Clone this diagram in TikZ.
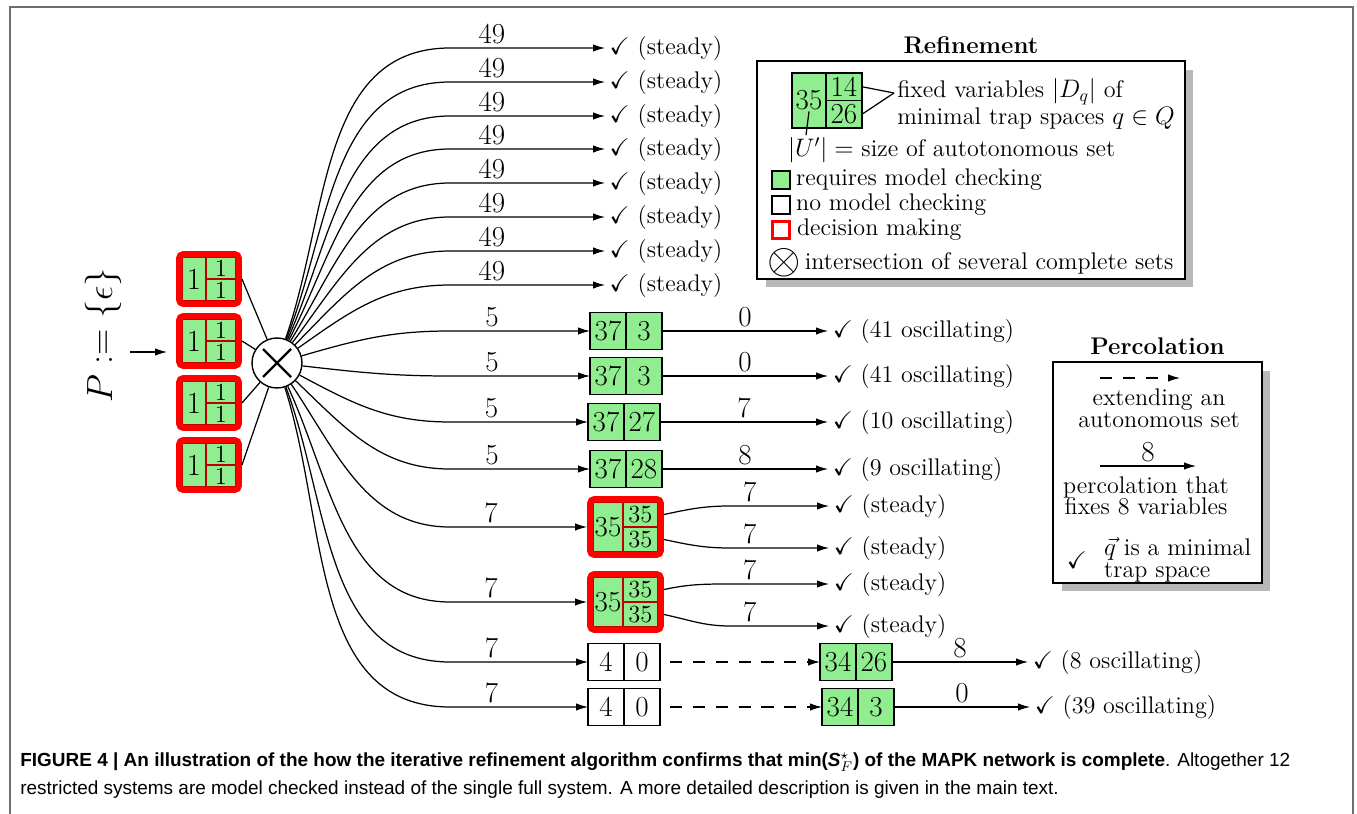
\documentclass[tikz,border=0pt]{standalone}
\usepackage{amsmath}
\usepackage{amssymb}
\usepackage{fontspec}
\newfontfamily\capfont{Liberation Sans}
\usetikzlibrary{arrows.meta,positioning,fit,shadows}

\definecolor{cellgreen}{RGB}{144,238,144}
\definecolor{framegray}{RGB}{110,110,110}
\newcommand\txtsize{\fontsize{13.7}{12.4}\selectfont}
\newcommand\numsize{\fontsize{16.5}{19}\selectfont}
\newcommand\onesize{\fontsize{17.5}{20}\selectfont}
\newcommand\subsize{\fontsize{14}{16}\selectfont}

\begin{document}
\begin{tikzpicture}[
    x=0.02cm, y=0.02cm,
    every node/.style={font=\txtsize},
    cell/.style={draw, line width=1.1pt, fill=cellgreen, minimum width=0.72cm, minimum height=0.74cm, inner sep=0pt, outer sep=0pt, font=\numsize},
    blank/.style={cell, fill=white},
    dcell/.style={draw=red!75!black, line width=0.6pt, fill=cellgreen, inner sep=0pt, outer sep=0pt},
    decide/.style={draw=red, line width=3.4pt, rounded corners=2.5pt, inner sep=1.7pt},
    outcome/.style={anchor=west, inner sep=2.5pt},
    lbl/.style={above, inner sep=2pt, font=\numsize},
    flow/.style={-{Latex[length=2.4mm,width=1.5mm]}, line width=0.7pt},
    extend/.style={flow, dash pattern=on 7pt off 6pt},
    legendbox/.style={draw, line width=1.2pt, fill=white, drop shadow={shadow xshift=0.17cm, shadow yshift=-0.17cm, fill=black!28, opacity=1}}
]
\useasboundingbox (0,0) rectangle (1357,-814);
\draw[framegray, line width=1.1pt] (10,-814) -- (10,-7) -- (1353,-7) -- (1353,-814);

% start set and the four decisions
\node[rotate=90, font=\fontsize{20}{24}\selectfont] (pset) at (103,-335) {$P := \{\epsilon\}$};
\coordinate (pin) at (130,-352);
\coordinate (pout) at (167,-352);
\draw[flow] (pin) -- (pout);
\node[circle, draw, line width=0.8pt, fill=white, minimum size=1cm, inner sep=0pt] (meet) at (277,-363) {};
\draw[line width=1.3pt] ([shift={(-14,-14)}]meet.center) -- ([shift={(14,14)}]meet.center);
\draw[line width=1.3pt] ([shift={(-14,14)}]meet.center) -- ([shift={(14,-14)}]meet.center);
\foreach \i in {1,...,4} {
  \node[dcell, minimum width=0.48cm, minimum height=0.88cm, font=\onesize] (pl\i) at (194,{-279-62*(\i-1)}) {1};
  \node[dcell, minimum width=0.6cm, minimum height=0.44cm, font=\subsize, anchor=north west] (pt\i) at (pl\i.north east) {1};
  \node[dcell, minimum width=0.6cm, minimum height=0.44cm, font=\subsize, anchor=south west] (pb\i) at (pl\i.south east) {1};
  \node[decide, fit=(pl\i)(pt\i)(pb\i)] (p\i) {};
  \draw[line width=0.7pt] (p\i.east) -- (meet);
}

% steady results
\foreach \py [count=\i] in {48,82,116,149,183,217,251,285} {
  \node[outcome] (st\i) at (605,-\py) {$\checkmark$ (steady)};
  \pgfmathsetmacro{\ang}{atan2(363-\py,110)}
  \coordinate (kst\i) at (450,-\py);
  \draw[flow] (meet) to[out=\ang, in=180] (kst\i) -- node[lbl, pos=0.27] {49} (st\i.west);
}

% restricted systems
\node[cell] (a1) at (608,-331) {37};
\node[cell, right=0pt of a1] (a2) {3};
\node[cell] (b1) at (608,-376) {37};
\node[cell, right=0pt of b1] (b2) {3};
\node[cell] (c1) at (606,-422) {37};
\node[cell, right=0pt of c1] (c2) {27};
\node[cell] (d1) at (608,-469) {37};
\node[cell, right=0pt of d1] (d2) {28};
\node[dcell, minimum width=0.6cm, minimum height=1cm, font=\numsize] (e1) at (608,-527) {35};
\node[dcell, minimum width=0.7cm, minimum height=0.5cm, font=\subsize, anchor=north west] (e2) at (e1.north east) {35};
\node[dcell, minimum width=0.7cm, minimum height=0.5cm, font=\subsize, anchor=south west] (e3) at (e1.south east) {35};
\node[decide, fit=(e1)(e2)(e3)] (e) {};
\node[dcell, minimum width=0.6cm, minimum height=1cm, font=\numsize] (f1) at (608,-602) {35};
\node[dcell, minimum width=0.7cm, minimum height=0.5cm, font=\subsize, anchor=north west] (f2) at (f1.north east) {35};
\node[dcell, minimum width=0.7cm, minimum height=0.5cm, font=\subsize, anchor=south west] (f3) at (f1.south east) {35};
\node[decide, fit=(f1)(f2)(f3)] (f) {};
\node[blank] (g1) at (606,-662) {4};
\node[blank, right=0pt of g1] (g2) {0};
\node[cell] (g3) at (838,-662) {34};
\node[cell, right=0pt of g3] (g4) {26};
\node[blank] (h1) at (606,-707) {4};
\node[blank, right=0pt of h1] (h2) {0};
\node[cell] (h3) at (840,-707) {34};
\node[cell, right=0pt of h3] (h4) {3};

\foreach \py/\tgt/\w in {331/a1/5, 376/b1/5, 422/c1/5, 469/d1/5, 527/e/7, 602/f/7, 662/g1/7, 707/h1/7} {
  \pgfmathsetmacro{\ang}{atan2(363-\py,110)}
  \coordinate (k\tgt) at (450,-\py);
  \draw[flow] (meet) to[out=\ang, in=180] (k\tgt) -- node[lbl, pos=0.3] {\w} (\tgt.west);
}

% outcomes
\node[outcome] (oa) at (828,-331) {$\checkmark$ (41 oscillating)};
\node[outcome] (ob) at (828,-376) {$\checkmark$ (41 oscillating)};
\node[outcome] (oc) at (828,-422) {$\checkmark$ (10 oscillating)};
\node[outcome] (od) at (828,-469) {$\checkmark$ (9 oscillating)};
\draw[flow] (a2.east) -- node[lbl] {0} (oa.west);
\draw[flow] (b2.east) -- node[lbl] {0} (ob.west);
\draw[flow] (c2.east) -- node[lbl] {7} (oc.west);
\draw[flow] (d2.east) -- node[lbl] {8} (od.west);
\node[outcome] (oe1) at (829,-506) {$\checkmark$ (steady)};
\node[outcome] (oe2) at (829,-548) {$\checkmark$ (steady)};
\node[outcome] (of1) at (829,-584) {$\checkmark$ (steady)};
\node[outcome] (of2) at (829,-626) {$\checkmark$ (steady)};
\coordinate (ke1) at (730,-506);
\coordinate (ke2) at (730,-548);
\coordinate (kf1) at (730,-584);
\coordinate (kf2) at (730,-626);
\draw[flow] (e.east |- e2) to[out=12, in=180] (ke1) -- node[lbl, pos=0.2] {7} (oe1.west);
\draw[flow] (e.east |- e3) to[out=-12, in=180] (ke2) -- node[lbl, pos=0.2] {7} (oe2.west);
\draw[flow] (f.east |- f2) to[out=12, in=180] (kf1) -- node[lbl, pos=0.2] {7} (of1.west);
\draw[flow] (f.east |- f3) to[out=-12, in=180] (kf2) -- node[lbl, pos=0.2] {7} (of2.west);
\draw[extend, shorten <=2mm] (g2.east) -- (g3.west);
\draw[extend, shorten <=2mm] (h2.east) -- (h3.west);
\node[outcome] (og) at (1028,-662) {$\checkmark$ (8 oscillating)};
\node[outcome] (oh) at (1030,-707) {$\checkmark$ (39 oscillating)};
\draw[flow] (g4.east) -- node[lbl] {8} (og.west);
\draw[flow] (h4.east) -- node[lbl] {0} (oh.west);

% legend: refinement
\node[legendbox, minimum width=8.56cm, minimum height=4.36cm] (refbox) at (971,-170) {};
\node[above=0pt of refbox, font=\txtsize\bfseries] (reftitle) {Refinement};
\node[cell, minimum width=0.68cm, minimum height=1.1cm] (u1) at (809,-100.5) {35};
\node[cell, minimum width=0.72cm, minimum height=0.55cm, anchor=north west] (u2) at (u1.north east) {14};
\node[cell, minimum width=0.72cm, minimum height=0.55cm, anchor=south west] (u3) at (u1.south east) {26};
\node[anchor=west, align=left, inner sep=0pt] (fixed) at (897,-104) {fixed variables $|D_q|$ of\\minimal trap spaces $q\in Q$};
\coordinate (fxp) at ([shift={(-3,11)}]fixed.west);
\draw[line width=0.7pt] (u2.east) -- (fxp);
\draw[line width=0.7pt] (u3.east) -- (fxp);
\node[anchor=west, inner sep=1pt] (usize) at (786,-150) {$|U'| =$ size of autotonomous set};
\draw[line width=0.7pt] ([yshift=-0.22cm]u1.center) -- ([xshift=0.4cm]usize.north west);
\node[cell, minimum size=0.36cm, line width=0.8pt] (kgreen) at (781,-180) {};
\node[anchor=west] (tgreen) at (kgreen.east) {requires model checking};
\node[blank, minimum size=0.36cm, line width=0.8pt] (kwhite) at (781,-205) {};
\node[anchor=west] (twhite) at (kwhite.east) {no model checking};
\node[draw=red, fill=white, line width=1.8pt, minimum size=0.33cm, inner sep=0pt] (kred) at (781,-230) {};
\node[anchor=west] (tred) at (kred.east) {decision making};
\node[inner sep=0pt] (kmeet) at (784,-263) {\scalebox{1.7}{$\otimes$}};
\node[anchor=west, inner sep=2pt] (tmeet) at (kmeet.east) {intersection of several complete sets};

% legend: percolation
\node[legendbox, minimum width=4.18cm, minimum height=4.42cm] (percbox) at (1157.5,-472.5) {};
\node[above=0pt of percbox, font=\txtsize\bfseries] (perctitle) {Percolation};
\coordinate (ex1) at (1100,-378);
\coordinate (ex2) at (1180,-378);
\draw[extend] (ex1) -- (ex2);
\node[align=center] (extext) at (1159,-408) {extending an\\autonomous set};
\coordinate (pc1) at (1100,-466);
\coordinate (pc2) at (1196,-466);
\draw[flow] (pc1) -- node[lbl] {8} (pc2);
\node[align=center] (pctext) at (1146,-496) {percolation that\\fixes 8 variables};
\node (pchk) at (1077,-560) {$\checkmark$};
\node[anchor=west, align=left] (pqtext) at (1098,-560) {$\vec{q}$ is a minimal\\trap space};

% caption
\node[anchor=west, inner sep=0pt, font=\capfont\fontsize{10.8}{13}\selectfont] (fig1) at (20,-762) {\textbf{FIGURE 4 | An illustration of the how the iterative refinement algorithm confirms that min(\textit{S}$^{\star}_{F}$) of the MAPK network is complete}. Altogether 12};
\node[anchor=west, inner sep=0pt, font=\capfont\fontsize{10.8}{13}\selectfont] (fig2) at (20,-790) {restricted systems are model checked instead of the single full system. A more detailed description is given in the main text.};
\end{tikzpicture}
\end{document}
